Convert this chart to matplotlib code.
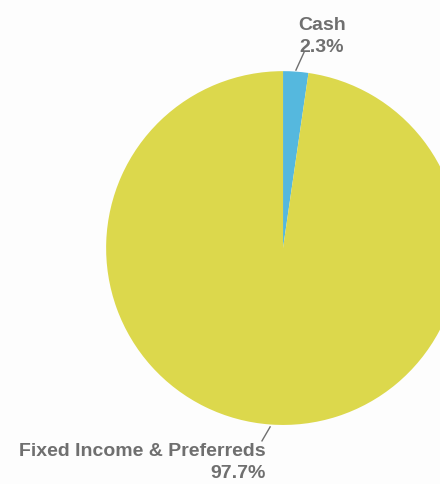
import matplotlib
matplotlib.use('Agg')
import matplotlib.pyplot as plt

labels = ['Cash', 'Fixed Income & Preferreds']
values = [2.3, 97.7]
colors = ['#55b8de', '#dcd84c']

fig = plt.figure(figsize=(4.4, 4.84), dpi=100)
fig.patch.set_facecolor('#fdfdfd')
# pie is larger than the figure on the right side, like the reference
ax = fig.add_axes([0.241, 0.122, 0.8045, 0.731])
ax.pie(values, colors=colors, startangle=90, counterclock=False,
       wedgeprops={'linewidth': 0})
ax.set_xlim(-1, 1)
ax.set_ylim(-1, 1)
ax.set_aspect('equal')
ax.axis('off')

txt = dict(color='#6f6f6f', fontsize=14, fontweight='bold',
           family=['Liberation Sans', 'DejaVu Sans'], linespacing=1.4,
           clip_on=False)

# leader lines
ax.plot([0.073, 0.119], [1.006, 1.107], color='#6f6f6f', lw=1, clip_on=False)
ax.plot([-0.073, -0.119], [-1.011, -1.09], color='#6f6f6f', lw=1, clip_on=False)

ax.text(0.22, 1.087, f'{labels[0]}\n{values[0]}%', ha='center', va='bottom', **txt)
ax.text(-0.10, -1.103, f'{labels[1]}\n{values[1]}%', ha='right', va='top',
        multialignment='right', **txt)

fig.savefig('out.png', dpi=100, facecolor=fig.get_facecolor())
